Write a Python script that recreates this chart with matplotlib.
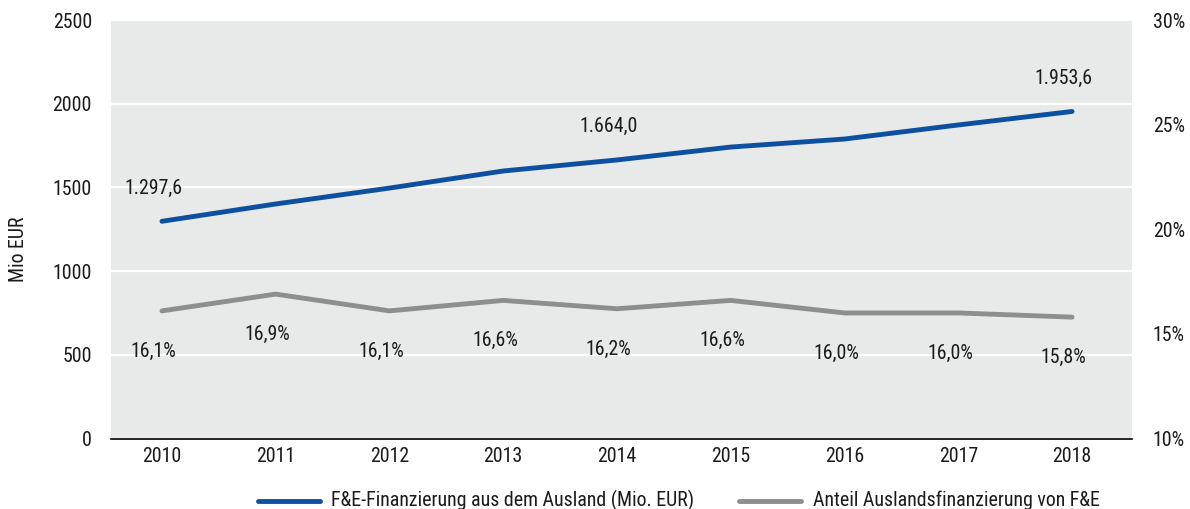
import os
import re
import matplotlib
matplotlib.use("Agg")
import matplotlib.pyplot as plt
from matplotlib.lines import Line2D
from matplotlib import font_manager
from matplotlib.font_manager import FontProperties

years = ["2010", "2011", "2012", "2013", "2014", "2015", "2016", "2017", "2018"]
funding_mio_eur = [1297.6, 1401, 1496, 1598, 1664.0, 1741, 1789, 1873, 1953.6]
share_pct = [16.1, 16.9, 16.1, 16.6, 16.2, 16.6, 16.0, 16.0, 15.8]
funding_labels = {0: "1.297,6", 4: "1.664,0", 8: "1.953,6"}
left_ticks = [0, 500, 1000, 1500, 2000, 2500]
right_ticks = [10, 15, 20, 25, 30]

series_names = ["F&E-Finanzierung aus dem Ausland (Mio. EUR)",
                "Anteil Auslandsfinanzierung von F&E"]


def pick_condensed_font():
    """Return a path to a narrow sans-serif face, or None."""
    stems = {}
    for f in font_manager.fontManager.ttflist:
        stem = re.sub(r"[^a-z]", "", os.path.splitext(os.path.basename(f.fname))[0].lower())
        stems.setdefault(stem, f.fname)
    wanted = ["robotocondensedregular", "robotocondensed",
              "notosanssemicondensed", "notosanssemicondensedregular",
              "dejavusanscondensed",
              "opensanssemicondensedregular", "opensanssemicondensed",
              "notosanscondensed", "notosanscondensedregular",
              "liberationsansnarrowregular", "liberationsansnarrow",
              "opensanscondensedregular"]
    for w in wanted:
        if w in stems:
            return stems[w]
    for f in font_manager.fontManager.ttflist:
        if (f.name in ("Roboto", "Noto Sans", "DejaVu Sans", "Open Sans", "Liberation Sans")
                and str(f.stretch) in ("condensed", "semi-condensed")
                and f.style == "normal" and f.weight in (400, "normal", "regular")):
            return f.fname
    return None


FS = 14.3
path = pick_condensed_font()
fp = FontProperties(fname=path, size=FS) if path else FontProperties(family="DejaVu Sans", size=FS)

BLUE = "#0d50a0"
GREY = "#8d8e8e"
BG = "#e8e9e9"
INK = "#1a1a1a"

fig = plt.figure(figsize=(11.9, 5.09), dpi=100)
ax = fig.add_axes([111 / 1190, 1 - 438.5 / 509, (1132 - 111) / 1190, (438.5 - 20) / 509])
ax.set_facecolor(BG)
ax2 = ax.twinx()

x = list(range(len(years)))
ax.set_xlim(-0.448, 8.527)
ax.set_ylim(0, 2500)
ax2.set_ylim(10, 30)

ax.set_yticks(left_ticks)
ax.set_yticklabels([str(v) for v in left_ticks])
ax2.set_yticks(right_ticks)
ax2.set_yticklabels([f"{v}%" for v in right_ticks])
ax.set_xticks(x)
ax.set_xticklabels(years)
for lbl in ax.get_xticklabels() + ax.get_yticklabels() + ax2.get_yticklabels():
    lbl.set_fontproperties(fp)

ax.grid(axis="y", color="white", linewidth=1.6)
ax.set_axisbelow(True)
for a in (ax, ax2):
    for s in a.spines.values():
        s.set_visible(False)
ax.spines["bottom"].set_visible(True)
ax.spines["bottom"].set_color("black")
ax.spines["bottom"].set_linewidth(1.2)

ax.tick_params(axis="both", length=0, colors=INK)
ax.tick_params(axis="y", pad=13.7)
ax.tick_params(axis="x", pad=6)
ax2.tick_params(axis="y", length=0, colors=INK, pad=15)

ax.plot(x, funding_mio_eur, color=BLUE, linewidth=3.5, solid_capstyle="round", zorder=3)
ax2.plot(x, share_pct, color=GREY, linewidth=3.5, solid_capstyle="round", zorder=3)

for i, txt in funding_labels.items():
    ax.annotate(txt, (x[i], funding_mio_eur[i]), xytext=(-6, 24), textcoords="offset points",
                ha="center", va="center", fontproperties=fp, color=INK)
for i, v in enumerate(share_pct):
    ax2.annotate(f"{v:.1f}%".replace(".", ","), (x[i], v), xytext=(-6, -29),
                 textcoords="offset points", ha="center", va="center",
                 fontproperties=fp, color=INK)

fig.text(18 / 1190, 1 - 249 / 509, "Mio EUR", rotation=90, ha="center", va="center",
         fontproperties=fp, color=INK)

# legend row
ly = 1 - 500.7 / 509
for (x0, x1, tx), col, name in zip([(258, 320, 331), (739, 801, 813)], [BLUE, GREY], series_names):
    fig.add_artist(Line2D([x0 / 1190, x1 / 1190], [ly, ly], transform=fig.transFigure,
                          color=col, linewidth=3.5, solid_capstyle="round"))
    fig.text(tx / 1190, ly, name, ha="left", va="center", fontproperties=fp, color=INK)

fig.savefig("out.png", dpi=100)
